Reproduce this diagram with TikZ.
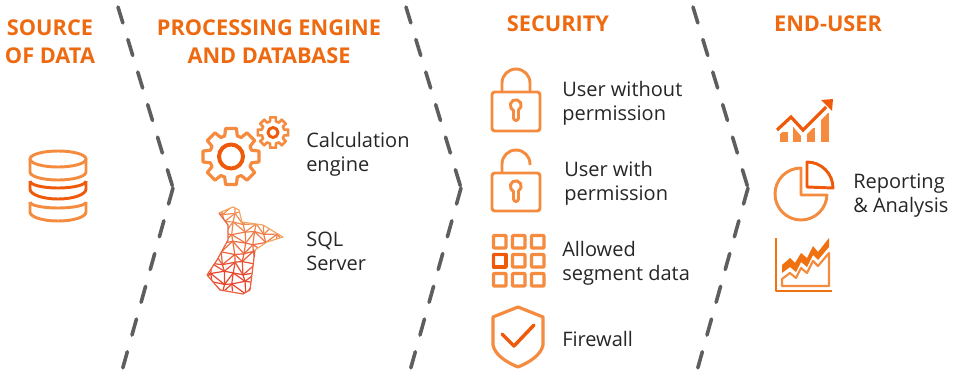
\documentclass[tikz,border=0pt]{standalone}
\usepackage{fontspec}
\setmainfont{Open Sans}
\definecolor{iconlight}{HTML}{F58B3F}
\definecolor{icondark}{HTML}{EE5A0A}
\definecolor{headcol}{HTML}{EE6A10}
\definecolor{chartcol}{HTML}{EF7110}
\definecolor{sepcol}{HTML}{5E5E5E}
\definecolor{meshred}{HTML}{E8402A}
\definecolor{meshorange}{HTML}{F2A662}
\tikzset{
  heading/.style={font=\fontsize{16.3}{21}\selectfont\bfseries, text=headcol, inner sep=0pt, align=center},
  label/.style={font=\fontsize{15}{18}\selectfont, text=black!85, inner sep=0pt, anchor=west, align=left},
  sepline/.style={draw=sepcol, line width=2.7pt, line cap=round, dash pattern=on 12.5pt off 13pt},
  iconline/.style={draw=iconlight, line width=2.2pt, line join=round},
  icondarkline/.style={draw=icondark, line width=2.2pt, line join=round}
}
\begin{document}
\begin{tikzpicture}[x=0.75pt,y=-0.75pt]
  \useasboundingbox (0,0) rectangle (953,372);
  % separators
  \coordinate (A) at (118,7);
  \coordinate (B) at (173,188);
  \coordinate (C) at (120,378);
  \coordinate (D) at (406,7);
  \coordinate (E) at (461,188);
  \coordinate (F) at (408,378);
  \coordinate (G) at (693,7);
  \coordinate (H) at (748,188);
  \coordinate (I) at (695,378);
  \begin{scope}
    \clip (0,0) rectangle (953,372);
    \draw[sepline] (A) -- (B);
    \draw[sepline] (B) -- (C);
    \draw[sepline] (D) -- (E);
    \draw[sepline] (E) -- (F);
    \draw[sepline] (G) -- (H);
    \draw[sepline] (H) -- (I);
  \end{scope}

  % headings
  \node[heading] (source) at (50,42) {SOURCE\\OF DATA};
  \node[heading] (engine) at (269,42) {PROCESSING ENGINE\\AND DATABASE};
  \node[heading] (security) at (558,24) {SECURITY};
  \node[heading] (enduser) at (828,24) {END-USER};

  % labels
  \node[label] (calc) at (306,154) {Calculation\\engine};
  \node[label] (sql) at (306,251) {SQL\\Server};
  \node[label] (nouser) at (562,103) {User without\\permission};
  \node[label] (withuser) at (564,183) {User with\\permission};
  \node[label] (segment) at (562,263) {Allowed\\segment data};
  \node[label] (firewall) at (562,339) {Firewall};
  \node[label] (report) at (853,196) {Reporting\\\& Analysis};

  % database
  \draw[iconline] (58,159) ellipse (28 and 8);
  \draw[iconline] (30,159) -- (30,172) arc[start angle=180, end angle=0, x radius=28, y radius=8] -- (86,159);
  \draw[icondarkline] (30,181) -- (30,189) arc[start angle=180, end angle=0, x radius=28, y radius=10] -- (86,181);
  \draw[icondarkline] (30,181) arc[start angle=180, end angle=0, x radius=28, y radius=7];
  \draw[iconline] (30,202) -- (30,212) arc[start angle=180, end angle=0, x radius=28, y radius=9] -- (86,202);
  \draw[iconline] (30,202) arc[start angle=180, end angle=0, x radius=28, y radius=6];

  % gears
  \draw[iconline, line width=2.4pt, shift={(231,156.5)}] (-17:21.5)
    \foreach \a in {0,45,...,315} { -- (\a-11:28.5) -- (\a+11:28.5) -- (\a+17:21.5) arc[start angle=\a+17, end angle=\a+28, radius=21.5] } -- cycle;
  \draw[icondarkline, line width=3pt] (231,156.5) circle (12);
  \draw[iconline, line width=1.9pt, shift={(273,132.5)}] (-14:11.5)
    \foreach \a in {0,45,...,315} { -- (\a-11:15.5) -- (\a+11:15.5) -- (\a+14:11.5) arc[start angle=\a+14, end angle=\a+31, radius=11.5] } -- cycle;
  \draw[icondarkline] (273,132.5) circle (5);

  % server logo
  \begin{scope}
    \clip (219,213) -- (233,207) -- (239,210) -- (242,222) -- (263,225) -- (283,237) -- (267,242) -- (255,250) -- (250,290) -- (243,294) -- (220,290) -- (207,275) -- (217,260) -- (228,240) -- (228,225) -- cycle;
    \foreach \i in {0,...,8}
      \foreach \j in {0,...,9} {
        \pgfmathsetmacro\px{202+10.5*\i+1.8*sin(137*\i+71*\j)}
        \pgfmathsetmacro\py{203+10*\j+1.8*cos(97*\i+151*\j)}
        \coordinate (p\i-\j) at (\px,\py);
      }
    \foreach \i in {0,...,7}
      \foreach \j in {0,...,8} {
        \pgfmathtruncatemacro\ii{\i+1}
        \pgfmathtruncatemacro\jj{\j+1}
        \pgfmathtruncatemacro\mixval{min(95,max(25,\j*14))}
        \draw[meshred!\mixval!meshorange, line width=0.9pt] (p\i-\jj) -- (p\i-\j) -- (p\ii-\j);
        \ifodd\i \draw[meshred!\mixval!meshorange, line width=0.9pt] (p\i-\j) -- (p\ii-\jj); \else \draw[meshred!\mixval!meshorange, line width=0.9pt] (p\ii-\j) -- (p\i-\jj); \fi
      }
  \end{scope}
  \draw[meshorange, line width=0.9pt, line join=round] (219,213) -- (233,207) -- (239,210) -- (242,222) -- (263,225) -- (283,237) -- (267,242) -- (255,250);
  \draw[meshred!70!meshorange, line width=0.9pt, line join=round] (255,250) -- (250,290) -- (243,294) -- (220,290) -- (207,275) -- (217,260) -- (228,240) -- (228,225) -- (219,213);

  % locks
  \draw[iconline, rounded corners=2pt] (492,92) rectangle (540,131);
  \draw[iconline] (502,92) -- (502,83) arc[start angle=180, end angle=360, radius=14] -- (530,92);
  \draw[iconline] (513.5,110) -- (513.5,118) arc[start angle=180, end angle=0, radius=2.5] -- (518.5,110) arc[start angle=60, end angle=-240, radius=5.5] -- cycle;
  \draw[iconline, rounded corners=2pt] (492,173) rectangle (540,211);
  \draw[iconline] (502,173) -- (502,164) arc[start angle=180, end angle=360, radius=14] -- (530,165);
  \draw[iconline] (513.5,191) -- (513.5,199) arc[start angle=180, end angle=0, radius=2.5] -- (518.5,191) arc[start angle=60, end angle=-240, radius=5.5] -- cycle;

  % segment grid
  \foreach \x in {0,1,2}
    \foreach \y in {0,1,2}
      \draw[iconline, line width=2.4pt, rounded corners=0.5pt] (493.5+19*\x,235.5+19*\y) rectangle ++(12.5,12.5);
  \draw[icondarkline, line width=2.6pt] (493.5,254.5) rectangle ++(12.5,12.5);

  % shield
  \draw[iconline, line width=2.4pt] (518,307) -- (543,317) -- (543,345) .. controls (541,355) and (530,362) .. (518,367) .. controls (506,362) and (495,355) .. (493,345) -- (493,317) -- cycle;
  \draw[icondarkline, line width=2.6pt, line cap=round] (502,334) -- (514,346) -- (534,325);

  % growth chart
  \foreach \x/\t in {780/132,793/126,807/128,821/113}
    \fill[iconlight] (\x,\t) rectangle ++(7.5,142-\t);
  \draw[white, line width=3pt] (776,135) -- (791,121) -- (803,135) -- (826,112);
  \draw[icondark, line width=2.4pt] (777,130) -- (791,117) -- (803,130) -- (826,107);
  \fill[icondark] (833,99) -- (832,111) -- (821,100) -- cycle;

  % pie
  \draw[iconline] (827,195) -- (801,195) -- (801,168) arc[start angle=-90, end angle=-360, radius=26];
  \draw[icondarkline] (807,187) -- (807,162) arc[start angle=-90, end angle=0, radius=26] -- cycle;

  % area chart
  \draw[draw=chartcol, line width=2pt, line join=round] (776,238) -- (776,291) -- (832,291);
  \fill[chartcol] (782,265) -- (790,258) -- (795,263) -- (801,253) -- (807,258) -- (813,246) -- (818,252) -- (829,238) -- (829,247) -- (818,260) -- (813,255) -- (807,267) -- (801,262) -- (796,272) -- (790,267) -- (782,273) -- cycle;
  \draw[draw=iconlight, line width=1.6pt, line join=round] (782,279) -- (790,273) -- (796,278) -- (801,268) -- (807,273) -- (813,261) -- (818,266) -- (829,253) -- (829,286) -- (782,286) -- cycle;
\end{tikzpicture}
\end{document}
